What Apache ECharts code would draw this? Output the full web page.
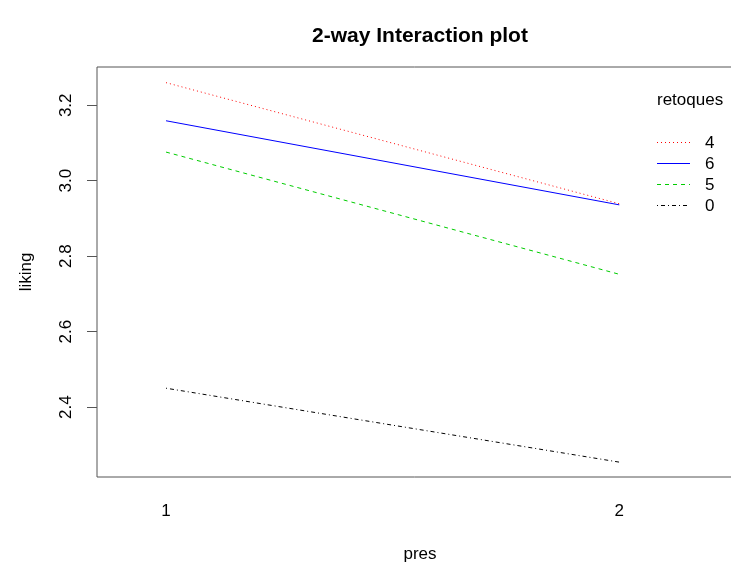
<!DOCTYPE html>
<html>
<head>
<meta charset="utf-8">
<script src="https://cdn.jsdelivr.net/npm/echarts@6/dist/echarts.min.js"></script>
<style>html,body{margin:0;padding:0;background:#fff}#c{width:731px;height:563px}</style>
</head>
<body>
<div id="c"></div>
<script>
const presLevels = [1, 2];
const xTickLabels = ['1', '2'];
const yTickValues = [2.4, 2.6, 2.8, 3.0, 3.2];
const seriesNames = ['4', '6', '5', '0'];
const liking4 = [3.260, 2.939];
const liking6 = [3.159, 2.936];
const liking5 = [3.076, 2.752];
const liking0 = [2.450, 2.254];

const FONT = "'Liberation Sans', Arial, Helvetica, sans-serif";
const valuesList = [liking4, liking6, liking5, liking0];
const styles = [
  {color: '#ff0000', type: [1, 3]},
  {color: '#0000ff', type: 'solid'},
  {color: '#00cd00', type: [4, 4]},
  {color: '#000000', type: [1, 3, 4, 3]}
];

// legend drawn as graphic elements (layout only)
const legendGraphics = [];
seriesNames.forEach((n, i) => {
  const y = 142.5 + 21 * i;
  legendGraphics.push({
    type: 'line', silent: true,
    shape: {x1: 657, y1: y, x2: 690, y2: y},
    style: {stroke: styles[i].color, lineWidth: 1,
      lineDash: Array.isArray(styles[i].type) ? styles[i].type : null}
  });
  legendGraphics.push({
    type: 'text', silent: true, x: 705, y: y + 0.5,
    style: {text: n, fill: '#000', font: "17px 'Liberation Sans', Arial, sans-serif",
      textAlign: 'left', textVerticalAlign: 'middle'}
  });
});

const chart = echarts.init(document.getElementById('c'), null, {renderer: 'canvas'});
chart.setOption({
  animation: false,
  backgroundColor: '#ffffff',
  title: [
    {text: '2-way Interaction plot', left: 415, top: 21, textAlign: 'center',
     textStyle: {fontFamily: FONT, fontSize: 21, fontWeight: 'bold', color: '#000'}},
    {text: 'retoques', left: 652, top: 87,
     textStyle: {fontFamily: FONT, fontSize: 17, fontWeight: 'normal', color: '#000'}}
  ],
  grid: {left: 97, top: 67, right: -12, bottom: 86, outerBoundsMode: 'none', containLabel: false,
    show: true, borderColor: '#555', borderWidth: 1, backgroundColor: 'transparent'},
  graphic: legendGraphics,
  xAxis: {
    type: 'value', min: 0.8477, max: 2.273,
    name: 'pres', nameLocation: 'middle', nameGap: 69,
    nameTextStyle: {fontFamily: FONT, fontSize: 17, color: '#000'},
    axisLine: {show: false},
    axisTick: {show: false},
    splitLine: {show: false},
    axisLabel: {customValues: presLevels, formatter: v => xTickLabels[presLevels.indexOf(v)] ?? '',
      margin: 26, fontFamily: FONT, fontSize: 17, color: '#000'}
  },
  yAxis: {
    type: 'value', min: 2.2146, max: 3.3015,
    name: 'liking', nameLocation: 'middle', nameGap: 62, nameRotate: 90,
    nameTextStyle: {fontFamily: FONT, fontSize: 17, color: '#000'},
    axisLine: {show: false},
    axisTick: {show: true, customValues: yTickValues, length: 10, lineStyle: {color: '#555'}},
    splitLine: {show: false},
    axisLabel: {customValues: yTickValues, rotate: 90, margin: 22, formatter: v => v.toFixed(1),
      fontFamily: FONT, fontSize: 17, color: '#000'}
  },
  series: seriesNames.map((n, i) => ({
    name: n, type: 'line', symbol: 'none', silent: true,
    data: presLevels.map((x, j) => [x, valuesList[i][j]]),
    itemStyle: {color: styles[i].color},
    lineStyle: {color: styles[i].color, width: 1, type: styles[i].type}
  }))
});
</script>
</body>
</html>
